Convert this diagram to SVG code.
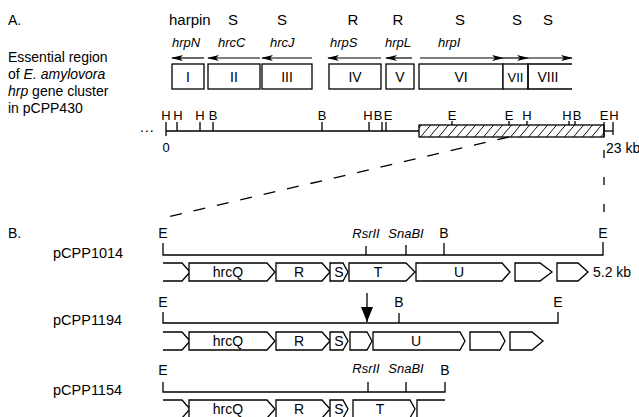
<svg xmlns="http://www.w3.org/2000/svg" width="639" height="417" viewBox="0 0 639 417">
<defs>
<style>
text{font-family:"Liberation Sans",Arial,sans-serif;fill:#000}
.t14{font-size:14px}
.pl{font-size:14.5px}
.it{font-style:italic;font-size:13px}
.m{font-size:13px;text-anchor:middle}
.mk{font-size:14px;text-anchor:middle}
.ln{stroke:#000;stroke-width:1.3;fill:none}
.bx{stroke:#000;stroke-width:1.3;fill:#fff}
.ar{stroke:#000;stroke-width:1.2;fill:none;marker-end:url(#ah)}
.dash{stroke:#000;stroke-width:1.3;fill:none;stroke-dasharray:12 12}
</style>
<marker id="ah" viewBox="0 0 12 8" refX="11" refY="4" markerWidth="12" markerHeight="8" markerUnits="userSpaceOnUse" orient="auto">
<path d="M0,1 L12,4 L0,7 L3,4 Z" fill="#000"/>
</marker>
<marker id="ah2" viewBox="0 0 16 12" refX="15" refY="6" markerWidth="16" markerHeight="12" markerUnits="userSpaceOnUse" orient="auto">
<path d="M0,0 L15,6 L0,12 Z" fill="#000"/>
</marker>
<pattern id="hatch" width="9" height="9" patternUnits="userSpaceOnUse" patternTransform="skewX(-40)">
<rect width="9" height="9" fill="#fff"/>
<line x1="4.5" y1="0" x2="4.5" y2="9" stroke="#000" stroke-width="0.9"/>
</pattern>
</defs>

<g id="sectionA-labels">
<text class="t14" x="8" y="25">A.</text>
<text class="t14" x="8" y="62">Essential region</text>
<text class="t14" x="8" y="79">of <tspan font-style="italic">E. amylovora</tspan></text>
<text class="t14" x="8" y="96"><tspan font-style="italic">hrp</tspan> gene cluster</text>
<text class="t14" x="8" y="113">in pCPP430</text>
</g>

<g id="phenotypes" font-size="15">
<text x="169" y="25">harpin</text>
<text x="233" y="25" text-anchor="middle">S</text>
<text x="282" y="25" text-anchor="middle">S</text>
<text x="353" y="25" text-anchor="middle">R</text>
<text x="398" y="25" text-anchor="middle">R</text>
<text x="460" y="25" text-anchor="middle">S</text>
<text x="517" y="25" text-anchor="middle">S</text>
<text x="548" y="25" text-anchor="middle">S</text>
</g>

<g id="gene-names">
<text class="it" x="172" y="47">hrpN</text>
<text class="it" x="218" y="47">hrcC</text>
<text class="it" x="270" y="47">hrcJ</text>
<text class="it" x="330" y="47">hrpS</text>
<text class="it" x="385" y="47">hrpL</text>
<text class="it" x="438" y="47">hrpI</text>
</g>

<g id="transcription-arrows">
<line class="ar" x1="204" y1="58" x2="172" y2="58"/>
<line class="ar" x1="260" y1="58" x2="208" y2="58"/>
<line class="ar" x1="312" y1="58" x2="262" y2="58"/>
<line class="ar" x1="381" y1="58" x2="328" y2="58"/>
<line class="ar" x1="412" y1="58" x2="386" y2="58"/>
<line class="ar" x1="420" y1="58" x2="503" y2="58"/>
<line class="ar" x1="503" y1="58" x2="528" y2="58"/>
<line class="ar" x1="528" y1="58" x2="572" y2="58"/>
</g>

<g id="complementation-groups">
<g id="grp-I"><rect class="bx" x="172" y="64" width="32" height="25"/><text class="mk" x="188" y="82">I</text></g>
<g id="grp-II"><rect class="bx" x="208" y="64" width="52" height="25"/><text class="mk" x="234" y="82">II</text></g>
<g id="grp-III"><rect class="bx" x="262" y="64" width="50" height="25"/><text class="mk" x="287" y="82">III</text></g>
<g id="grp-IV"><rect class="bx" x="329" y="64" width="52" height="25"/><text class="mk" x="355" y="82">IV</text></g>
<g id="grp-V"><rect class="bx" x="386" y="64" width="28" height="25"/><text class="mk" x="400" y="82">V</text></g>
<g id="grp-VI"><rect class="bx" x="419" y="64" width="84" height="25"/><text class="mk" x="461" y="82">VI</text></g>
<g id="grp-VII"><rect class="bx" x="503" y="64" width="25" height="25"/><text class="m" x="515.5" y="82">VII</text></g>
<g id="grp-VIII"><path class="ln" d="M572,64 H528 V89 H572"/><text class="mk" x="548" y="82">VIII</text></g>
</g>

<g id="restriction-map">
<text class="t14" x="140" y="132" letter-spacing="1">...</text>
<line class="ln" x1="166" y1="131" x2="419" y2="131"/>
<rect x="419" y="125" width="185" height="12" fill="url(#hatch)" stroke="#000" stroke-width="1.3"/>
<line class="ln" x1="166" y1="122" x2="166" y2="136"/>
<line class="ln" x1="604" y1="122" x2="604" y2="137"/>
<line class="ln" x1="604" y1="131" x2="613" y2="131"/>
<line class="ln" x1="613" y1="122" x2="613" y2="135"/>
<path class="ln" d="M177,122V131 M200,122V131 M213,122V131 M322,122V131 M369,122V131 M382,122V131 M386,122V131 M452,121V125 M509,121V125 M527,121V125 M569,121V125 M575,121V125"/>
<g class="m">
<text x="166" y="120">H</text>
<text x="178" y="120">H</text>
<text x="200" y="120">H</text>
<text x="213" y="120">B</text>
<text x="322" y="120">B</text>
<text x="368" y="120">H</text>
<text x="378" y="120">B</text>
<text x="388" y="120">E</text>
<text x="452" y="120">E</text>
<text x="509" y="120">E</text>
<text x="527" y="120">H</text>
<text x="567" y="120">H</text>
<text x="577" y="120">B</text>
<text x="604" y="120">E</text>
<text x="614" y="120">H</text>
<text x="166" y="152">0</text>
</g>
<text class="t14" x="606" y="153">23 kb</text>
</g>

<g id="connectors">
<line class="dash" x1="509" y1="137" x2="163" y2="218"/>
<line class="ln" x1="604" y1="150" x2="604" y2="214" stroke-dasharray="8 19"/>
<line x1="367" y1="293" x2="367" y2="322" stroke="#000" stroke-width="1.3" marker-end="url(#ah2)"/>
</g>

<text class="t14" x="8" y="238">B.</text>

<g id="pCPP1014">
<text class="pl" x="53" y="258">pCPP1014</text>
<path class="ln" d="M163,243V255H603V242 M366,246V255 M406,245V255 M444,243V255"/>
<g class="mk">
<text x="163" y="238">E</text>
<text x="603" y="238">E</text>
<text x="444" y="238">B</text>
</g>
<text class="it" x="366" y="238" text-anchor="middle">RsrII</text>
<text class="it" x="406" y="238" text-anchor="middle">SnaBI</text>
<path class="ln" d="M163,263H182L190,272L182,281H163"/>
<path class="bx" d="M189,263H267L275,272L267,281H189Z"/>
<path class="bx" d="M276,263H322L330,272L322,281H276Z"/>
<path class="bx" d="M330,263H343L348,272L343,281H330Z"/>
<path class="bx" d="M349,263H406L415,272L406,281H349Z"/>
<path class="bx" d="M416,263H502L510,272L502,281H416Z"/>
<path class="bx" d="M515,263H540L552,272L540,281H515Z"/>
<path class="bx" d="M557,263H578L588,272L578,281H557Z"/>
<g class="mk">
<text x="228" y="277">hrcQ</text>
<text x="299" y="277">R</text>
<text x="339" y="277">S</text>
<text x="378" y="277">T</text>
<text x="459" y="277">U</text>
</g>
<text class="t14" x="593" y="277">5.2 kb</text>
</g>

<g id="pCPP1194">
<text class="pl" x="53" y="325">pCPP1194</text>
<path class="ln" d="M163,312V323H558V312 M399,313V323"/>
<g class="mk">
<text x="163" y="307">E</text>
<text x="558" y="307">E</text>
<text x="399" y="307">B</text>
</g>
<path class="ln" d="M163,332H182L190,341L182,350H163"/>
<path class="bx" d="M189,332H267L275,341L267,350H189Z"/>
<path class="bx" d="M276,332H322L330,341L322,350H276Z"/>
<path class="bx" d="M330,332H343L348,341L343,350H330Z"/>
<path class="bx" d="M350,332H367L372,341L367,350H350Z"/>
<path class="bx" d="M373,332H460L465,341L460,350H373Z"/>
<path class="bx" d="M470,332H500L505,341L500,350H470Z"/>
<path class="bx" d="M510,332H532L543,341L532,350H510Z"/>
<g class="mk">
<text x="228" y="346">hrcQ</text>
<text x="299" y="346">R</text>
<text x="339" y="346">S</text>
<text x="416" y="346">U</text>
</g>
</g>

<g id="pCPP1154">
<text class="pl" x="53" y="395">pCPP1154</text>
<path class="ln" d="M163,382V392H445V382 M368,382V392 M406,382V392"/>
<text class="mk" x="163" y="375">E</text>
<text class="mk" x="445" y="375">B</text>
<text class="it" x="366" y="373" text-anchor="middle">RsrII</text>
<text class="it" x="406" y="373" text-anchor="middle">SnaBI</text>
<path class="ln" d="M163,400H182L190,409L182,418H163"/>
<path class="bx" d="M189,400H267L275,409L267,418H189Z"/>
<path class="bx" d="M276,400H322L330,409L322,418H276Z"/>
<path class="bx" d="M330,400H343L348,409L343,418H330Z"/>
<path class="bx" d="M353,400H410L415,409L410,418H353Z"/>
<path class="ln" d="M445,400H417V418"/>
<g class="mk">
<text x="228" y="414">hrcQ</text>
<text x="299" y="414">R</text>
<text x="339" y="414">S</text>
<text x="380" y="414">T</text>
</g>
</g>
</svg>
